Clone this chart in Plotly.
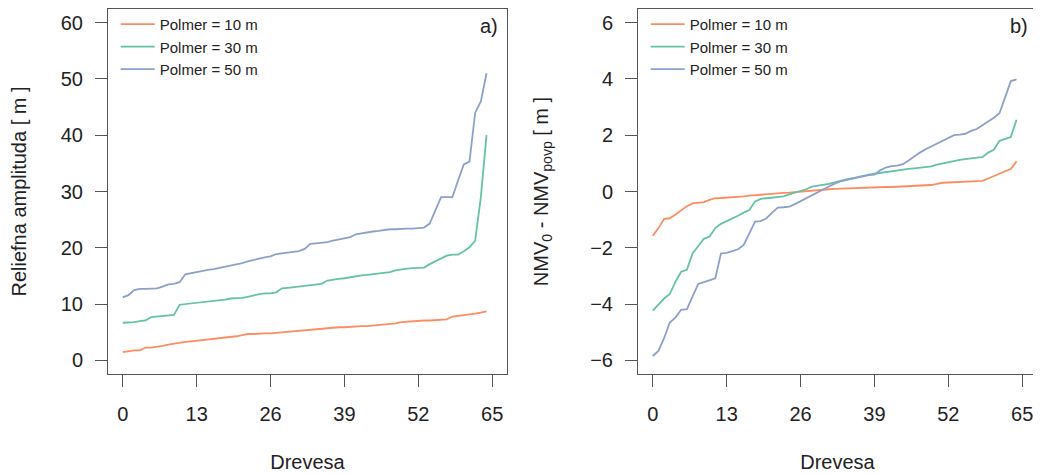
import plotly.graph_objects as go

drevesa = list(range(65))

# Panel a) relief amplitude [m]
amp_10 = [1.5, 1.7, 1.8, 1.8, 2.3, 2.3, 2.4, 2.6, 2.8, 3.0, 3.2, 3.3, 3.4, 3.5, 3.6, 3.7,
          3.9, 4.0, 4.1, 4.2, 4.3, 4.5, 4.7, 4.7, 4.8, 4.8, 4.8, 4.9, 5.0, 5.1, 5.2, 5.3,
          5.4, 5.5, 5.6, 5.6, 5.7, 5.8, 5.9, 5.9, 6.0, 6.0, 6.1, 6.1, 6.2, 6.2, 6.3, 6.4,
          6.6, 6.8, 6.9, 7.0, 7.0, 7.1, 7.1, 7.2, 7.3, 7.3, 7.8, 7.9, 8.0, 8.1, 8.3, 8.5, 8.7]
amp_30 = [6.7, 6.7, 6.8, 7.0, 7.1, 7.7, 7.8, 7.9, 8.0, 8.1, 9.9, 10.0, 10.2, 10.3, 10.4, 10.5,
          10.5, 10.6, 10.8, 11.0, 11.0, 11.1, 11.3, 11.6, 11.8, 11.9, 11.9, 12.1, 12.8, 12.9,
          13.0, 13.1, 13.2, 13.3, 13.4, 13.6, 14.2, 14.4, 14.5, 14.6, 14.8, 15.0, 15.1, 15.2,
          15.3, 15.4, 15.5, 15.7, 16.0, 16.2, 16.3, 16.4, 16.5, 16.5, 17.1, 17.6, 18.0, 18.6,
          18.8, 18.8, 19.4, 20.1, 21.3, 29.0, 40.0]
amp_50 = [11.2, 11.6, 12.5, 12.7, 12.7, 12.8, 12.8, 13.1, 13.5, 13.6, 13.9, 15.3, 15.5, 15.8,
          16.0, 16.1, 16.2, 16.4, 16.6, 16.8, 17.0, 17.3, 17.6, 17.9, 18.1, 18.3, 18.5, 18.9,
          19.0, 19.1, 19.2, 19.4, 19.8, 20.7, 20.8, 20.9, 21.0, 21.3, 21.5, 21.6, 21.9, 22.4,
          22.6, 22.7, 22.9, 23.0, 23.2, 23.3, 23.3, 23.4, 23.4, 23.4, 23.5, 23.6, 24.3, 26.7,
          29.0, 29.0, 29.0, 32.0, 34.8, 35.3, 44.0, 46.0, 51.0]

# Panel b) NMV0 - NMVpovp [m]
nmv_10 = [-1.57, -1.3, -0.97, -0.95, -0.82, -0.68, -0.52, -0.42, -0.41, -0.38, -0.3, -0.24,
          -0.23, -0.22, -0.21, -0.19, -0.17, -0.15, -0.13, -0.11, -0.09, -0.07, -0.06, -0.05,
          -0.04, -0.02, -0.01, 0.02, 0.04, 0.06, 0.07, 0.08, 0.09, 0.1, 0.11, 0.12, 0.13, 0.14,
          0.14, 0.15, 0.15, 0.16, 0.16, 0.17, 0.18, 0.19, 0.2, 0.21, 0.22, 0.23, 0.27, 0.31,
          0.32, 0.33, 0.34, 0.35, 0.35, 0.36, 0.38, 0.46, 0.55, 0.65, 0.72, 0.8, 1.07]
nmv_30 = [-4.23, -4.0, -3.8, -3.64, -3.2, -2.85, -2.78, -2.2, -1.95, -1.68, -1.6, -1.3, -1.15,
          -1.06, -0.95, -0.86, -0.75, -0.66, -0.35, -0.26, -0.24, -0.22, -0.2, -0.17, -0.1,
          -0.04, 0.02, 0.08, 0.17, 0.2, 0.22, 0.27, 0.32, 0.38, 0.43, 0.47, 0.52, 0.56, 0.6,
          0.63, 0.66, 0.7, 0.73, 0.76, 0.78, 0.8, 0.82, 0.84, 0.86, 0.89, 0.95, 1.0, 1.04, 1.08,
          1.12, 1.16, 1.18, 1.2, 1.22, 1.38, 1.48, 1.8, 1.86, 1.93, 2.55]
nmv_50 = [-5.84, -5.66, -5.2, -4.65, -4.47, -4.2, -4.18, -3.7, -3.28, -3.22, -3.15, -3.08, -2.2,
          -2.18, -2.12, -2.05, -1.9, -1.5, -1.07, -1.05, -0.95, -0.75, -0.57, -0.56, -0.54,
          -0.45, -0.34, -0.25, -0.14, -0.02, 0.08, 0.18, 0.28, 0.36, 0.4, 0.45, 0.5, 0.55, 0.58,
          0.6, 0.75, 0.85, 0.9, 0.92, 0.97, 1.1, 1.25, 1.38, 1.5, 1.6, 1.72, 1.8, 1.9, 2.0, 2.02,
          2.05, 2.15, 2.22, 2.35, 2.48, 2.62, 2.78, 3.36, 3.92, 3.98]

series_names = ["Polmer = 10 m", "Polmer = 30 m", "Polmer = 50 m"]
colors = ["#FC8D62", "#66C2A5", "#8DA0CB"]
x_ticks = [0, 13, 26, 39, 52, 65]
y_ticks_a = [0, 10, 20, 30, 40, 50, 60]
y_ticks_b = [-6, -4, -2, 0, 2, 4, 6]

FONT = "Liberation Sans, Arial, sans-serif"
AX = "#555555"
TXT = "#222222"
FS = 20

fig = go.Figure()
for name, col, ys in zip(series_names, colors, [amp_10, amp_30, amp_50]):
    fig.add_trace(go.Scatter(x=drevesa, y=ys, mode="lines", name=name,
                             line=dict(color=col, width=1.8),
                             xaxis="x", yaxis="y", legend="legend"))
for name, col, ys in zip(series_names, colors, [nmv_10, nmv_30, nmv_50]):
    fig.add_trace(go.Scatter(x=drevesa, y=ys, mode="lines", name=name,
                             line=dict(color=col, width=1.8),
                             xaxis="x2", yaxis="y2", legend="legend2"))

axis_common = dict(showline=True, mirror=True, linecolor=AX, linewidth=1,
                   ticks="outside", ticklen=12, tickcolor=AX, tickwidth=1,
                   showgrid=False, zeroline=False,
                   tickfont=dict(family=FONT, size=FS, color=TXT))

L_DOM = [0, 399 / 929]
R_DOM = [530 / 929, 1]
title_font = dict(family=FONT, size=FS, color=TXT)
legend_font = dict(family=FONT, size=15, color=TXT)

fig.update_layout(
    width=1033, height=466,
    margin=dict(l=100, r=4, t=1, b=100, autoexpand=False),
    paper_bgcolor="white", plot_bgcolor="white",
    font=dict(family=FONT, color=TXT),
    xaxis=dict(domain=L_DOM, range=[-2.6, 67.6], tickvals=x_ticks, anchor="y",
               ticklabelstandoff=10,
               title=dict(text="Drevesa", font=title_font, standoff=30),
               **axis_common),
    yaxis=dict(range=[-2.4, 62.4], tickvals=y_ticks_a, anchor="x",
               ticklabelstandoff=8,
               title=dict(text="Reliefna amplituda [ m ]", font=title_font, standoff=33),
               **axis_common),
    xaxis2=dict(domain=R_DOM, range=[-2.6, 67.6], tickvals=x_ticks, anchor="y2",
                ticklabelstandoff=10,
                title=dict(text="Drevesa", font=title_font, standoff=30),
                **axis_common),
    yaxis2=dict(range=[-6.48, 6.48], tickvals=y_ticks_b, anchor="x2",
                ticklabelstandoff=8,
                title=dict(text="NMV<sub>0</sub> - NMV<sub>povp</sub> [ m ]",
                           font=title_font, standoff=36),
                **axis_common),
    legend=dict(x=0.0083, y=1.003, xanchor="left", yanchor="top", bgcolor="rgba(0,0,0,0)",
                font=legend_font, tracegroupgap=0, itemwidth=34),
    legend2=dict(x=0.5788, y=1.003, xanchor="left", yanchor="top",
                 bgcolor="rgba(0,0,0,0)",
                 font=legend_font, tracegroupgap=0, itemwidth=34),
    annotations=[
        dict(text="a)", xref="x domain", yref="y domain", x=0.982, y=0.953,
             xanchor="right", yanchor="middle", showarrow=False,
             font=dict(family=FONT, size=FS, color=TXT)),
        dict(text="b)", xref="x2 domain", yref="y2 domain", x=0.982, y=0.953,
             xanchor="right", yanchor="middle", showarrow=False,
             font=dict(family=FONT, size=FS, color=TXT)),
    ],
)

fig.write_html("out.html")
